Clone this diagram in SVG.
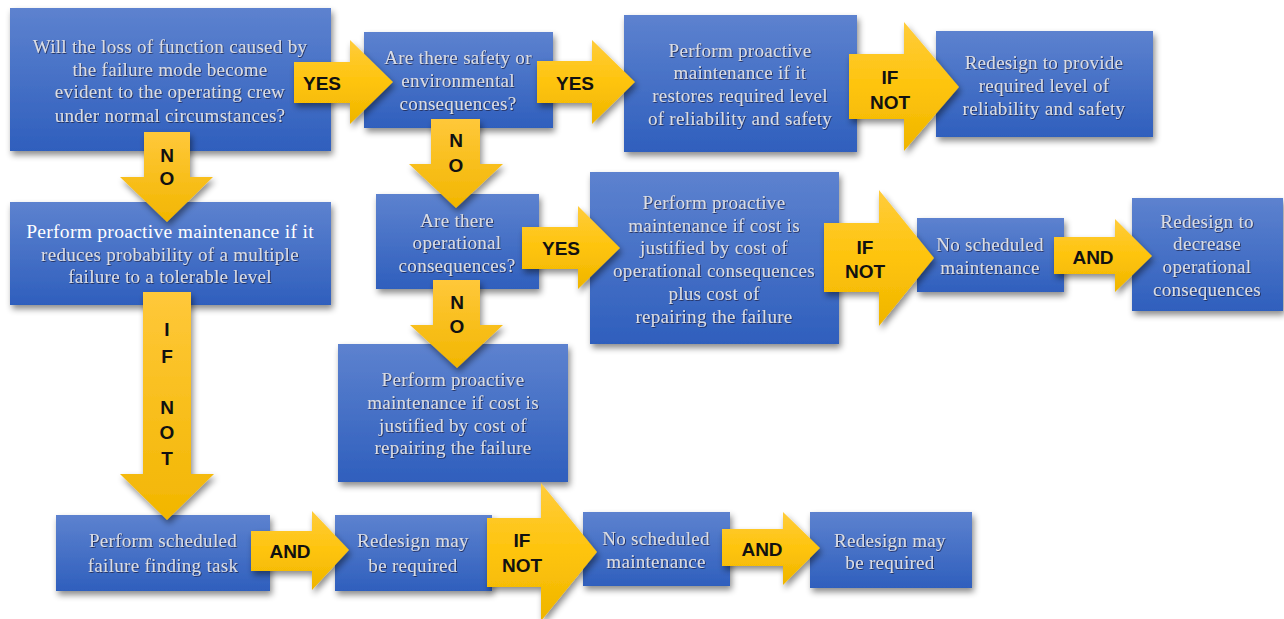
<svg xmlns="http://www.w3.org/2000/svg" width="1284" height="619" viewBox="0 0 1284 619">
<defs>
<linearGradient id="gBox" x1="0" y1="0" x2="0" y2="1">
<stop offset="0" stop-color="#5d82cf"/>
<stop offset="1" stop-color="#2f5fbd"/>
</linearGradient>
<linearGradient id="gArr" x1="0" y1="0" x2="0" y2="1">
<stop offset="0" stop-color="#ffcc3c"/>
<stop offset="0.5" stop-color="#fec40c"/>
<stop offset="1" stop-color="#efb500"/>
</linearGradient>
<linearGradient id="gArrV" x1="0" y1="0" x2="0" y2="1">
<stop offset="0" stop-color="#ffc83a"/>
<stop offset="1" stop-color="#f2b600"/>
</linearGradient>
<filter id="shadow" x="-10%" y="-10%" width="125%" height="130%">
<feDropShadow dx="2" dy="4" stdDeviation="3" flood-color="#000" flood-opacity="0.45"/>
</filter>
<filter id="emboss" x="-5%" y="-20%" width="110%" height="150%">
<feDropShadow dx="0.8" dy="0.8" stdDeviation="0.6" flood-color="#1a2448" flood-opacity="0.95"/>
</filter>
</defs>
<style>
.box{fill:url(#gBox);filter:url(#shadow);}
.arr{fill:url(#gArr);filter:url(#shadow);}
.arrv{fill:url(#gArrV);filter:url(#shadow);}
.t{font-family:"Liberation Serif","Times New Roman",serif;font-size:19px;letter-spacing:0.3px;fill:#d9dce5;text-anchor:middle;filter:url(#emboss);}
.tw{font-family:"Liberation Serif","Times New Roman",serif;font-size:19.5px;letter-spacing:0.3px;fill:#ffffff;text-anchor:middle;}
.lb{font-family:"Liberation Sans",Arial,sans-serif;font-size:19px;font-weight:bold;fill:#111;text-anchor:middle;dominant-baseline:central;}
</style>
<rect width="1284" height="619" fill="#ffffff"/>

<g id="node-evident">
<rect class="box" x="10" y="8" width="321" height="143"/>
<text class="t" x="170" y="53">Will the loss of function caused by</text>
<text class="t" x="170" y="76">the failure mode become</text>
<text class="t" x="170" y="98">evident to the operating crew</text>
<text class="t" x="170" y="122">under normal circumstances?</text>
</g>
<g id="node-safety">
<rect class="box" x="364" y="32" width="189" height="96"/>
<text class="t" x="458" y="64">Are there safety or</text>
<text class="t" x="458" y="87">environmental</text>
<text class="t" x="458" y="110">consequences?</text>
</g>
<g id="node-restore">
<rect class="box" x="624" y="15" width="233" height="137"/>
<text class="t" x="740" y="57">Perform proactive</text>
<text class="t" x="740" y="79">maintenance if it</text>
<text class="t" x="740" y="102">restores required level</text>
<text class="t" x="740" y="125">of reliability and safety</text>
</g>
<g id="node-redesign-safety">
<rect class="box" x="936" y="31" width="217" height="106"/>
<text class="t" x="1044" y="69">Redesign to provide</text>
<text class="t" x="1044" y="92">required level of</text>
<text class="t" x="1044" y="115">reliability and safety</text>
</g>
<g id="node-multiple">
<rect class="box" x="10" y="202" width="321" height="103"/>
<text class="tw" x="170" y="238">Perform proactive maintenance if it</text>
<text class="t" x="170" y="261">reduces probability of a multiple</text>
<text class="t" x="170" y="283">failure to a tolerable level</text>
</g>
<g id="node-operational">
<rect class="box" x="376" y="194" width="163" height="95"/>
<text class="t" x="457" y="227">Are there</text>
<text class="t" x="457" y="249">operational</text>
<text class="t" x="457" y="272">consequences?</text>
</g>
<g id="node-op-cost">
<rect class="box" x="590" y="172" width="249" height="172"/>
<text class="t" x="714" y="209">Perform proactive</text>
<text class="t" x="714" y="232">maintenance if cost is</text>
<text class="t" x="714" y="254">justified by cost of</text>
<text class="t" x="714" y="277">operational consequences</text>
<text class="t" x="714" y="300">plus cost of</text>
<text class="t" x="714" y="323">repairing the failure</text>
</g>
<g id="node-repair-cost">
<rect class="box" x="338" y="344" width="230" height="138"/>
<text class="t" x="453" y="386">Perform proactive</text>
<text class="t" x="453" y="409">maintenance if cost is</text>
<text class="t" x="453" y="432">justified by cost of</text>
<text class="t" x="453" y="454">repairing the failure</text>
</g>
<g id="node-no-sched-1">
<rect class="box" x="917" y="218" width="147" height="74"/>
<text class="t" x="990" y="251">No scheduled</text>
<text class="t" x="990" y="274">maintenance</text>
</g>
<g id="node-redesign-op">
<rect class="box" x="1132" y="198" width="151" height="113"/>
<text class="t" x="1207" y="228">Redesign to</text>
<text class="t" x="1207" y="250">decrease</text>
<text class="t" x="1207" y="273">operational</text>
<text class="t" x="1207" y="296">consequences</text>
</g>
<g id="node-failure-finding">
<rect class="box" x="56" y="515" width="214" height="76"/>
<text class="t" x="163" y="547">Perform scheduled</text>
<text class="t" x="163" y="572">failure finding task</text>
</g>
<g id="node-redesign-may-1">
<rect class="box" x="335" y="515" width="157" height="76"/>
<text class="t" x="413" y="547">Redesign may</text>
<text class="t" x="413" y="572">be required</text>
</g>
<g id="node-no-sched-2">
<rect class="box" x="583" y="512" width="147" height="74"/>
<text class="t" x="656" y="545">No scheduled</text>
<text class="t" x="656" y="568">maintenance</text>
</g>
<g id="node-redesign-may-2">
<rect class="box" x="810" y="512" width="162" height="76"/>
<text class="t" x="890" y="547">Redesign may</text>
<text class="t" x="890" y="569">be required</text>
</g>

<g id="connectors">
<polygon class="arr" points="294,62 350,62 350,40 393,82 350,124 350,103 294,103"/>
<text class="lb" x="322" y="83">YES</text>
<polygon class="arr" points="537,61 592,61 592,40 635,82 592,124 592,103 537,103"/>
<text class="lb" x="575" y="83">YES</text>
<polygon class="arr" points="849,54 904,54 904,22 959,87 904,151 904,119 849,119"/>
<text class="lb" x="890" y="77">IF</text>
<text class="lb" x="890" y="102">NOT</text>
<polygon class="arrv" points="144,132 190,132 190,177 213,177 167,222 120,177 144,177"/>
<text class="lb" x="167" y="155">N</text>
<text class="lb" x="167" y="178">O</text>
<polygon class="arrv" points="431,119 480,119 480,164 503,164 456,208 409,164 431,164"/>
<text class="lb" x="456" y="140">N</text>
<text class="lb" x="456" y="165">O</text>
<polygon class="arr" points="522,227 578,227 578,206 620,248 578,289 578,269 522,269"/>
<text class="lb" x="561" y="248">YES</text>
<polygon class="arrv" points="433,280 480,280 480,325 503,325 457,368 410,325 433,325"/>
<text class="lb" x="457" y="302">N</text>
<text class="lb" x="457" y="326">O</text>
<polygon class="arr" points="824,223 879,223 879,190 934,258 879,326 879,292 824,292"/>
<text class="lb" x="865" y="247">IF</text>
<text class="lb" x="865" y="271">NOT</text>
<polygon class="arr" points="1054,237 1115,237 1115,219 1152,256 1115,292 1115,274 1054,274"/>
<text class="lb" x="1093" y="257">AND</text>
<polygon class="arrv" points="143,292 191,292 191,474 214,474 167,520 120,474 143,474"/>
<text class="lb" x="167" y="329">I</text>
<text class="lb" x="167" y="356">F</text>
<text class="lb" x="167" y="407">N</text>
<text class="lb" x="167" y="432">O</text>
<text class="lb" x="167" y="458">T</text>
<polygon class="arr" points="251,531 312,531 312,511 349,550 312,590 312,571 251,571"/>
<text class="lb" x="290" y="551">AND</text>
<polygon class="arr" points="487,518 541,518 541,483 597,552 541,621 541,587 487,587"/>
<text class="lb" x="522" y="540">IF</text>
<text class="lb" x="522" y="565">NOT</text>
<polygon class="arr" points="722,529 783,529 783,512 820,548 783,585 783,566 722,566"/>
<text class="lb" x="762" y="549">AND</text>
</g>
</svg>
